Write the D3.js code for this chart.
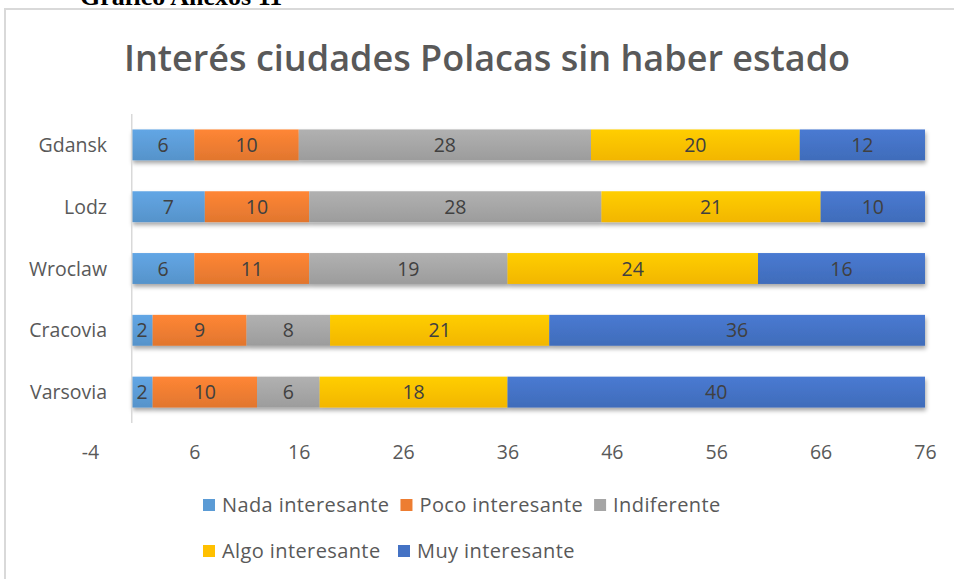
<!DOCTYPE html>
<html>
<head>
<meta charset="utf-8">
<script src="https://cdn.jsdelivr.net/npm/d3@7"></script>
<style>
	body { margin: 0; background: #fff; }
	svg { display: block; }
</style>
</head>
<body>
<svg id="chart" width="954" height="579"></svg>
<script>
"use strict";

// DATA
const cities = ["Gdansk", "Lodz", "Wroclaw", "Cracovia", "Varsovia"];
const seriesNames = [
	"Nada interesante",
	"Poco interesante",
	"Indiferente",
	"Algo interesante",
	"Muy interesante",
];
const nada = [6, 7, 6, 2, 2];
const poco = [10, 10, 11, 9, 10];
const indiferente = [28, 28, 19, 8, 6];
const algo = [20, 21, 24, 21, 18];
const muy = [12, 10, 16, 36, 40];
const xTicks = [-4, 6, 16, 26, 36, 46, 56, 66, 76];

const seriesColors = ["#5b9bd5", "#ed7d31", "#a5a5a5", "#ffc000", "#4472c4"];
const font = "'Open Sans', 'Liberation Sans', sans-serif";

// build rows for the stack
const seriesValues = [nada, poco, indiferente, algo, muy];
const rows = cities.map((c, i) => {
	const r = { city: c };
	seriesNames.forEach((s, j) => (r[s] = seriesValues[j][i]));
	return r;
});
const stacked = d3.stack().keys(seriesNames)(rows);

const svg = d3.select("#chart");

// gradients + shadow
const defs = svg.append("defs");
seriesColors.forEach((c, i) => {
	const g = defs
		.append("linearGradient")
		.attr("id", "grad" + i)
		.attr("x1", 0).attr("y1", 0).attr("x2", 0).attr("y2", 1);
	g.append("stop").attr("offset", "0%").attr("stop-color", d3.color(c).brighter(0.2));
	g.append("stop").attr("offset", "100%").attr("stop-color", d3.color(c).darker(0.15));
});
const shadow = defs.append("filter").attr("id", "shadow")
	.attr("x", "-5%").attr("y", "-30%").attr("width", "110%").attr("height", "180%");
shadow.append("feDropShadow")
	.attr("dx", 1).attr("dy", 3).attr("stdDeviation", 2)
	.attr("flood-color", "#000").attr("flood-opacity", 0.35);

// outer frame
svg.append("rect")
	.attr("x", 5).attr("y", 9)
	.attr("width", 960).attr("height", 600)
	.attr("fill", "none")
	.attr("stroke", "#d9d9d9")
	.attr("stroke-width", 2);

// cropped caption above the chart (cut off in the original too)
svg.append("text")
	.attr("x", 80).attr("y", 5)
	.attr("font-family", "'Liberation Serif', serif")
	.attr("font-weight", "bold")
	.attr("font-size", 26)
	.attr("fill", "#000")
	.text("Gráfico Anexos 11");

// title
svg.append("text")
	.attr("x", 487).attr("y", 71)
	.attr("text-anchor", "middle")
	.attr("font-family", font)
	.attr("font-weight", 600)
	.attr("font-size", 36)
	.attr("fill", "#595959")
	.text("Interés ciudades Polacas sin haber estado");

// scales
const x = d3.scaleLinear().domain([-4, 76]).range([90, 925]);
const y = d3.scaleBand().domain(cities).range([114, 423])
	.paddingInner(0.5).paddingOuter(0.25);

// bars
const rowG = svg.append("g").selectAll("g.row")
	.data(cities)
	.join("g")
	.attr("class", "row")
	.attr("filter", "url(#shadow)");

rowG.each(function (city, ci) {
	d3.select(this).selectAll("rect")
		.data(stacked.map((s, si) => ({ si: si, d: s[ci] })))
		.join("rect")
		.attr("x", (o) => x(o.d[0]))
		.attr("y", y(city))
		.attr("width", (o) => x(o.d[1]) - x(o.d[0]))
		.attr("height", y.bandwidth())
		.attr("fill", (o) => "url(#grad" + o.si + ")");
});

// data labels
stacked.forEach((s) => {
	svg.append("g").selectAll("text")
		.data(s)
		.join("text")
		.attr("x", (d) => (x(d[0]) + x(d[1])) / 2)
		.attr("y", (d) => y(d.data.city) + y.bandwidth() / 2)
		.attr("dy", "0.36em")
		.attr("text-anchor", "middle")
		.attr("font-family", font)
		.attr("font-size", 19.5)
		.attr("fill", "#404040")
		.text((d) => d[1] - d[0]);
});

// y axis line
svg.append("line")
	.attr("x1", x(0)).attr("x2", x(0))
	.attr("y1", 114).attr("y2", 423)
	.attr("stroke", "#d9d9d9")
	.attr("stroke-width", 1.5);

// category labels
svg.append("g").selectAll("text")
	.data(cities)
	.join("text")
	.attr("x", 107)
	.attr("y", (c) => y(c) + y.bandwidth() / 2)
	.attr("dy", "0.36em")
	.attr("text-anchor", "end")
	.attr("font-family", font)
	.attr("font-size", 19.5)
	.attr("fill", "#595959")
	.text((c) => c);

// x axis labels
const xAxis = svg.append("g")
	.attr("transform", "translate(0,445)")
	.call(d3.axisBottom(x).tickValues(xTicks).tickSize(0).tickPadding(0)
		.tickFormat((d) => String(d)));
xAxis.select(".domain").remove();
xAxis.selectAll("text")
	.attr("font-family", font)
	.attr("font-size", 19.5)
	.attr("fill", "#595959");

// legend
const legendRows = [[0, 1, 2], [3, 4]];
const legendY = [505, 551];
const colX = [203, 398];
legendRows.forEach((r, ri) => {
	let lx = 203;
	r.forEach((si, k) => {
		if (k < colX.length) lx = Math.max(lx, colX[k]);
		const g = svg.append("g").attr("transform", `translate(${lx},${legendY[ri]})`);
		g.append("rect")
			.attr("x", 0).attr("y", -6)
			.attr("width", 12).attr("height", 12)
			.attr("fill", seriesColors[si]);
		const t = g.append("text")
			.attr("x", 19).attr("dy", "0.36em")
			.attr("font-family", font)
			.attr("font-size", 20)
			.attr("letter-spacing", 0.4)
			.attr("fill", "#595959")
			.text(seriesNames[si]);
		lx += 19 + t.node().getComputedTextLength() + 11;
	});
});
</script>
</body>
</html>
